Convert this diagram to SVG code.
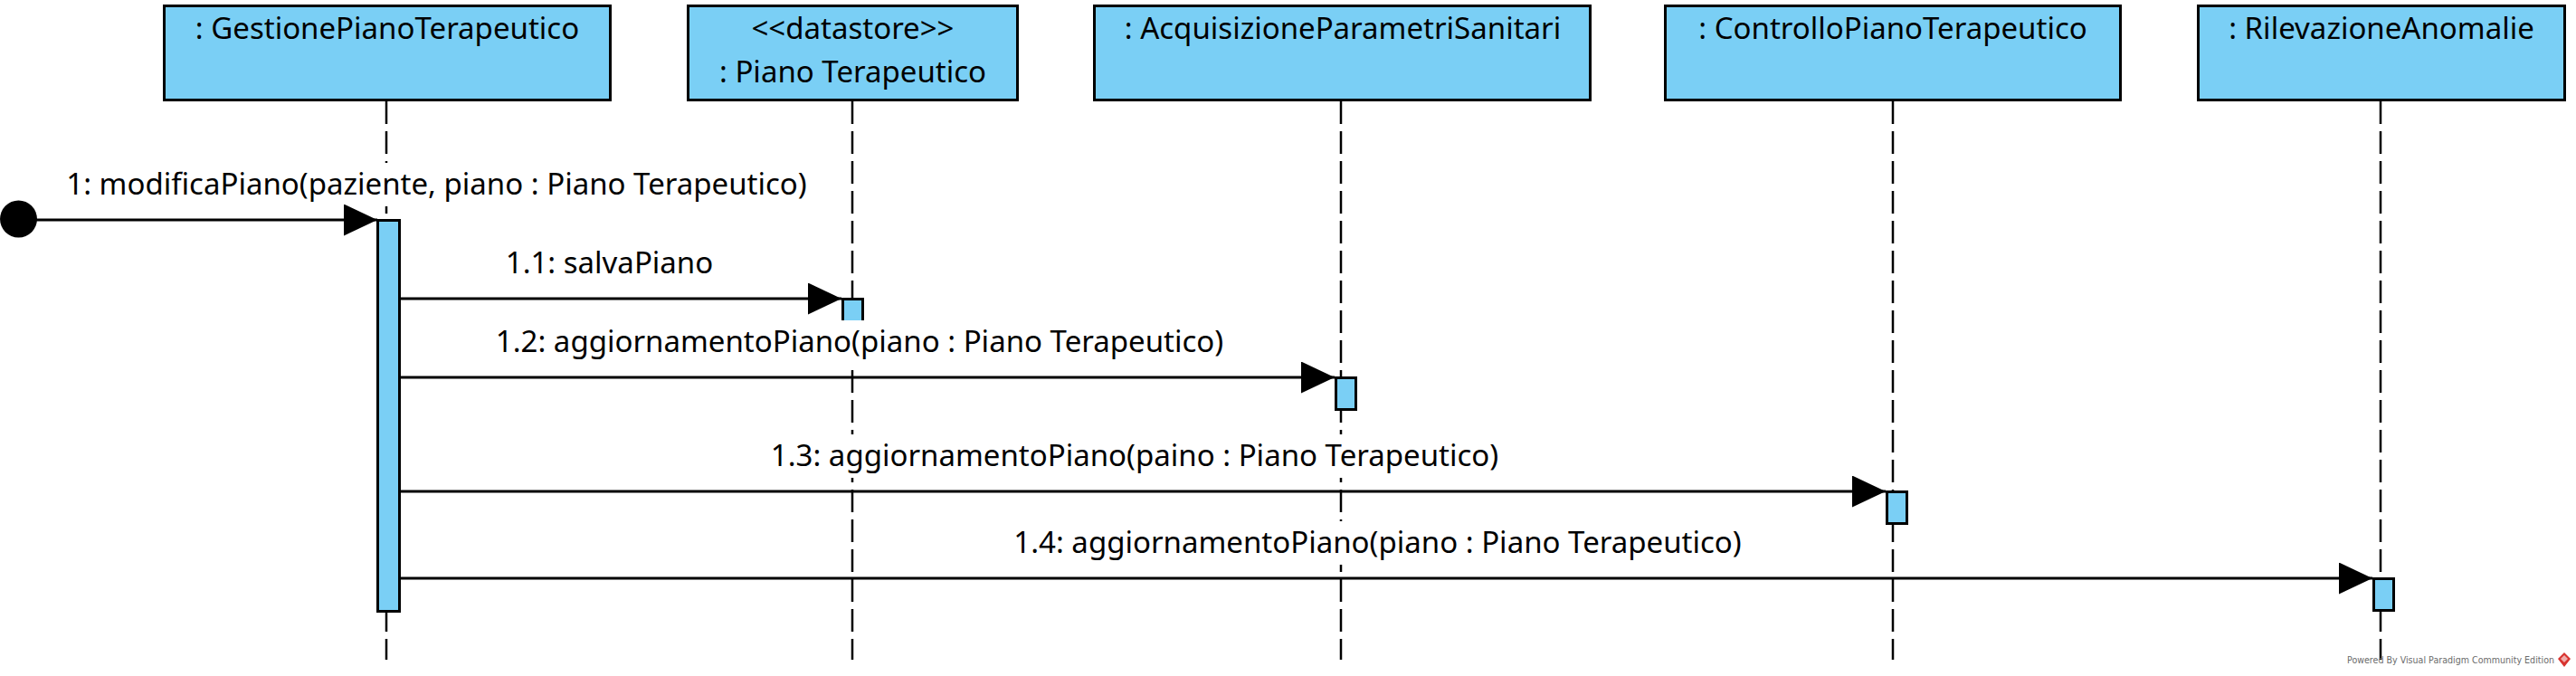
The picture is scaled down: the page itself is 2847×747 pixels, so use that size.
<svg xmlns="http://www.w3.org/2000/svg" width="2847" height="747" viewBox="0 0 2847 747">
  <style>
    .box { fill: #7ACFF5; stroke: #000; stroke-width: 3; }
    .bar { fill: #7ACFF5; stroke: #000; stroke-width: 3; }
    .life { stroke: #000; stroke-width: 2.5; stroke-dasharray: 25 8; fill: none; }
    .msg { stroke: #000; stroke-width: 3; fill: none; marker-end: url(#arr); }
    .t { font-family: "Noto Sans", "Open Sans", sans-serif; font-size: 33px; fill: #000; text-anchor: middle; }
    .lblbg { fill: #fff; }
    .pw { font-family: "DejaVu Sans", sans-serif; font-size: 11px; fill: #6b6b6b; }
  </style>
  <defs>
    <marker id="arr" markerUnits="userSpaceOnUse" markerWidth="38" markerHeight="36" refX="37" refY="17.5" orient="auto">
      <path d="M0,0 L37,17.5 L0,35 Z" fill="#000"/>
    </marker>
  </defs>
  <rect width="2847" height="747" fill="#fff"/>

  <g id="lifelines">
    <line class="life" x1="427" y1="112" x2="427" y2="729"/>
    <line class="life" x1="942" y1="112" x2="942" y2="729"/>
    <line class="life" x1="1482" y1="112" x2="1482" y2="729"/>
    <line class="life" x1="2092" y1="112" x2="2092" y2="729"/>
    <line class="life" x1="2631" y1="112" x2="2631" y2="729"/>
  </g>

  <g id="GestionePianoTerapeutico">
    <rect class="box" x="181.5" y="6.5" width="493" height="104"/>
    <text class="t" x="428" y="43">: GestionePianoTerapeutico</text>
    <rect class="bar" x="417.5" y="243.5" width="24" height="432"/>
  </g>
  <g id="PianoTerapeutico">
    <rect class="box" x="760.5" y="6.5" width="364" height="104"/>
    <text class="t" x="942.5" y="43">&lt;&lt;datastore&gt;&gt;</text>
    <text class="t" x="942.5" y="91">: Piano Terapeutico</text>
    <rect class="bar" x="931.5" y="330.5" width="22" height="35"/>
  </g>
  <g id="AcquisizioneParametriSanitari">
    <rect class="box" x="1209.5" y="6.5" width="548" height="104"/>
    <text class="t" x="1484" y="43">: AcquisizioneParametriSanitari</text>
    <rect class="bar" x="1476.5" y="417.5" width="22" height="35"/>
  </g>
  <g id="ControlloPianoTerapeutico">
    <rect class="box" x="1840.5" y="6.5" width="503" height="104"/>
    <text class="t" x="2092" y="43">: ControlloPianoTerapeutico</text>
    <rect class="bar" x="2085.5" y="543.5" width="22" height="35"/>
  </g>
  <g id="RilevazioneAnomalie">
    <rect class="box" x="2429.5" y="6.5" width="405" height="104"/>
    <text class="t" x="2632" y="43">: RilevazioneAnomalie</text>
    <rect class="bar" x="2623.5" y="639.5" width="22" height="35"/>
  </g>
  <g id="start">
    <circle cx="20.5" cy="242" r="20.5" fill="#000"/>
  </g>

  <g id="labels">
    <rect class="lblbg" x="70" y="180" width="825" height="48"/>
    <text class="t" x="482.5" y="215">1: modificaPiano(paziente, piano : Piano Terapeutico)</text>
    <rect class="lblbg" x="557" y="267" width="233" height="48"/>
    <text class="t" x="673.5" y="302">1.1: salvaPiano</text>
    <rect class="lblbg" x="544" y="354" width="812" height="48"/>
    <text class="t" x="950" y="389">1.2: aggiornamentoPiano(piano : Piano Terapeutico)</text>
    <rect class="lblbg" x="849" y="480" width="810" height="48"/>
    <text class="t" x="1254" y="515">1.3: aggiornamentoPiano(paino : Piano Terapeutico)</text>
    <rect class="lblbg" x="1117" y="576" width="811" height="48"/>
    <text class="t" x="1522.5" y="611">1.4: aggiornamentoPiano(piano : Piano Terapeutico)</text>
  </g>

  <g id="connectors">
    <line class="msg" x1="40" y1="243" x2="417" y2="243"/>
    <line class="msg" x1="443" y1="330" x2="930" y2="330"/>
    <line class="msg" x1="443" y1="417" x2="1475" y2="417"/>
    <line class="msg" x1="443" y1="543" x2="2084" y2="543"/>
    <line class="msg" x1="443" y1="639" x2="2622" y2="639"/>
  </g>

  <g id="footer">
    <text class="pw" x="2594" y="733" textLength="229" lengthAdjust="spacingAndGlyphs">Powered By  Visual Paradigm Community Edition</text>
    <path d="M2834,721 L2841,728 L2834,737 L2827,728 Z" fill="#d8332f"/>
    <path d="M2830,728 L2834,724 L2838,728 L2834,732 Z" fill="#fff" opacity="0.6"/>
  </g>
</svg>
